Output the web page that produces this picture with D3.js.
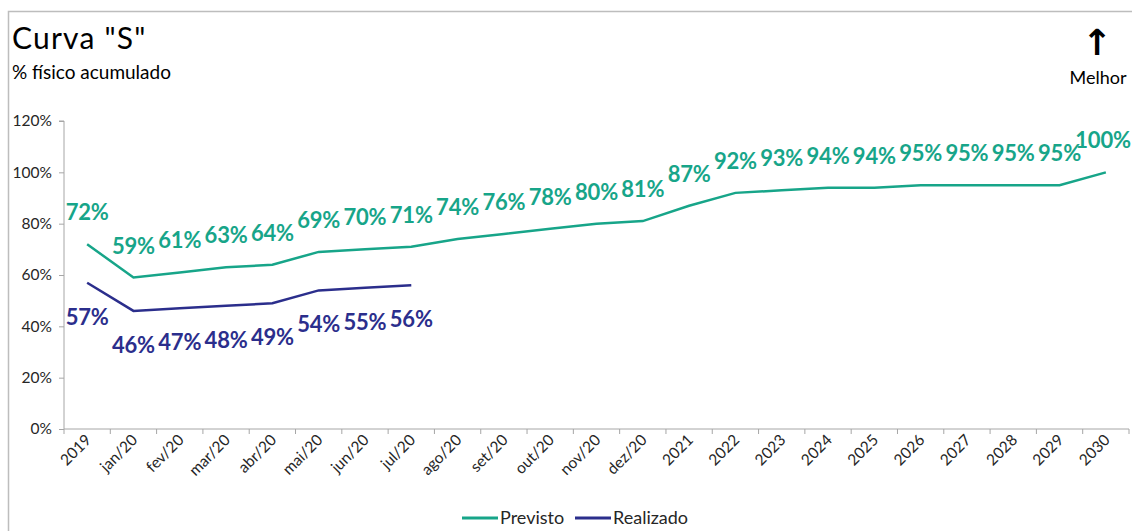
<!DOCTYPE html>
<html><head><meta charset="utf-8">
<script src="https://cdn.jsdelivr.net/npm/d3@7"></script>
<style>
html,body{margin:0;padding:0;background:#fff;}
svg{display:block;font-family:Lato, "Open Sans", sans-serif;}
</style></head>
<body><svg id="c" width="1132" height="531"></svg>
<script>
const categories = ["2019","jan/20","fev/20","mar/20","abr/20","mai/20","jun/20","jul/20","ago/20","set/20","out/20","nov/20","dez/20","2021","2022","2023","2024","2025","2026","2027","2028","2029","2030"];
const previsto = [72,59,61,63,64,69,70,71,74,76,78,80,81,87,92,93,94,94,95,95,95,95,100];
const realizado = [57,46,47,48,49,54,55,56];
const yTicks = [0,20,40,60,80,100,120];
const seriesNames = ["Previsto","Realizado"];
const colors = ["#17a589","#2b2e8c"];

const svg = d3.select("#c");
const W = 1132, H = 531;
const m = {left:64, right:1129, top:121, bottom:429};

// border
svg.append("rect").attr("x",8.5).attr("y",11.5).attr("width",W+10).attr("height",H+10)
  .attr("fill","none").attr("stroke","#bdbdbd").attr("stroke-width",1.5);

const x = d3.scaleBand().domain(categories).range([m.left,m.right]);
const y = d3.scaleLinear().domain([0,120]).range([m.bottom,m.top]);

// y axis
const ya = svg.append("g").attr("transform",`translate(${m.left},0)`)
  .call(d3.axisLeft(y).tickValues(yTicks).tickFormat(d=>d+"%").tickSize(5).tickPadding(7));
ya.select(".domain").attr("stroke","#a6a6a6").attr("d",`M-5,${m.top}H0V${m.bottom}`);
ya.selectAll(".tick line").attr("stroke","#a6a6a6");
ya.selectAll("text").attr("font-size",15.5).attr("fill","#262626").attr("font-family","Lato");

// x axis
const xa = svg.append("g").attr("transform",`translate(0,${m.bottom})`)
  .call(d3.axisBottom(x).tickSize(0).tickPadding(0));
xa.select(".domain").attr("stroke","#a6a6a6").attr("d",`M${m.left},0H${m.right}`);
const bounds = categories.map(c=>x(c)).concat([m.right]);
xa.selectAll(".bt").data(bounds).enter().append("line").attr("class","bt")
  .attr("x1",d=>d).attr("x2",d=>d).attr("y1",0).attr("y2",5).attr("stroke","#a6a6a6");
xa.selectAll(".tick text").attr("font-size",15.5).attr("fill","#262626").attr("font-family","Lato")
  .attr("text-anchor","end").attr("dy",0)
  .attr("transform","translate(5,12) rotate(-45)");

const cx = c => x(c) + x.bandwidth()/2;
const line = d3.line().x((d,i)=>cx(categories[i])).y(d=>y(d));

svg.append("path").datum(previsto).attr("d",line).attr("fill","none")
  .attr("stroke",colors[0]).attr("stroke-width",2.5);
svg.append("path").datum(realizado).attr("d",line).attr("fill","none")
  .attr("stroke",colors[1]).attr("stroke-width",2.5);

const pl = svg.append("g").selectAll("text").data(previsto).enter().append("text")
  .attr("x",(d,i)=>cx(categories[i])).attr("y",d=>y(d)-24)
  .attr("text-anchor","middle").attr("font-size",22).attr("font-weight","bold")
  .attr("letter-spacing",-0.2)
  .attr("fill",colors[0]).text(d=>d+"%");
// keep the last label inside the picture
pl.each(function(){
  const b = this.getBBox();
  if (b.x + b.width > W - 1) d3.select(this).attr("x", +d3.select(this).attr("x") - (b.x + b.width - (W - 1)));
});
svg.append("g").selectAll("text").data(realizado).enter().append("text")
  .attr("x",(d,i)=>cx(categories[i])).attr("y",d=>y(d)+42)
  .attr("text-anchor","middle").attr("font-size",22).attr("font-weight","bold")
  .attr("letter-spacing",-0.2)
  .attr("fill",colors[1]).text(d=>d+"%");

// titles
svg.append("text").attr("x",12).attr("y",49).attr("font-size",30).attr("letter-spacing",1.2).attr("fill","#000").text('Curva "S"');
svg.append("text").attr("x",12).attr("y",79).attr("font-size",19).attr("fill","#000").text("% físico acumulado");
svg.append("text").attr("x",1097).attr("y",55).attr("text-anchor","middle").attr("font-size",36).attr("font-weight","bold").attr("font-family","DejaVu Sans").attr("fill","#000").text("↑");
svg.append("text").attr("x",1098).attr("y",84).attr("text-anchor","middle").attr("font-size",18).attr("fill","#000").text("Melhor");

// legend
const lg = svg.append("g");
const lx = [462,575];
seriesNames.forEach((n,i)=>{
  lg.append("line").attr("x1",lx[i]).attr("x2",lx[i]+36).attr("y1",518).attr("y2",518)
    .attr("stroke",colors[i]).attr("stroke-width",3);
  lg.append("text").attr("x",lx[i]+38).attr("y",524).attr("font-size",18).attr("fill","#262626").text(n);
});
</script></body></html>
